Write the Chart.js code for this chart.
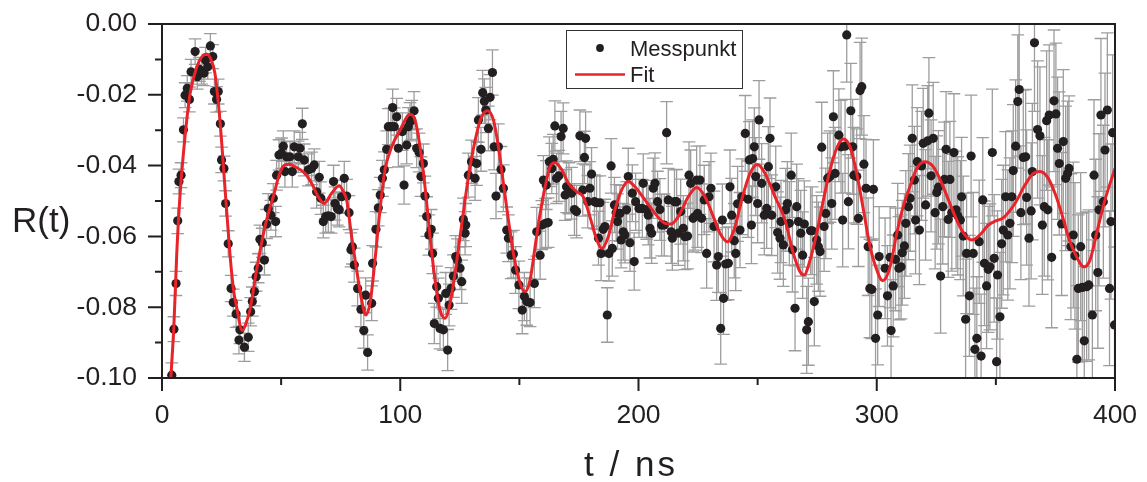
<!DOCTYPE html>
<html><head><meta charset="utf-8">
<script src="https://cdn.jsdelivr.net/npm/chart.js@4.4.1/dist/chart.umd.min.js"></script>
<style>html,body{margin:0;padding:0;background:#fff;}#wrap{width:1147px;height:482px;position:relative;}</style>
</head><body><div id="wrap"><canvas id="c"></canvas></div>
<script>
const xTicks = [0,50,100,150,200,250,300,350,400];
const xLabels = ['0','','100','','200','','300','','400'];
const yTicks = [-0.10,-0.09,-0.08,-0.07,-0.06,-0.05,-0.04,-0.03,-0.02,-0.01,0];
const yLabels = ['-0.10','','-0.08','','-0.06','','-0.04','','-0.02','','0.00'];

// Messpunkte: time (ns)
const tVals = [
4.1,5.0,5.9,6.6,7.1,8.0,9.0,9.7,10.6,11.5,12.2,13.9,14.8,15.7,16.6,17.6,18.3,19.2,20.3,21.3,
22.0,22.9,23.6,24.5,25.0,26.0,26.7,27.8,29.0,29.9,31.1,32.3,32.7,34.6,36.2,37.2,37.9,38.8,39.5,40.4,
41.1,42.1,43.0,43.9,44.6,45.7,46.7,47.7,48.1,49.1,
50.2,50.9,51.6,52.3,53.7,54.7,55.5,57.2,57.9,58.9,59.7,61.4,62.8,63.9,64.9,66.0,66.7,67.7,68.7,69.8,
71.0,72.0,72.6,73.6,74.4,75.4,76.5,77.5,78.5,79.3,79.9,80.7,82.1,83.5,84.7,85.5,86.3,88.0,88.4,89.8,
90.8,91.6,92.5,93.3,94.3,95.0,96.1,96.8,97.5,98.5,99.2,
100.9,101.6,102.7,103.4,104.1,104.8,105.8,106.9,107.9,108.7,109.7,110.4,111.1,112.0,113.0,113.6,114.3,115.3,116.0,116.7,
118.1,119.1,119.9,120.5,121.3,122.3,123.3,124.0,125.1,125.8,126.5,127.2,127.5,128.6,129.9,131.4,132.1,132.8,133.9,134.6,
135.3,135.9,137.0,137.7,138.7,139.4,140.2,141.2,142.3,143.3,144.7,145.4,146.5,147.5,148.4,149.8,
151.2,152.1,153.1,154.5,156.3,157.3,158.7,159.4,160.1,161.0,161.3,162.1,162.6,163.6,164.2,164.9,165.6,166.6,167.5,168.4,
169.2,169.8,170.8,171.9,173.1,174.0,175.4,176.6,177.3,177.8,178.7,179.6,180.3,181.5,182.4,183.2,183.8,184.3,185.2,185.9,
186.9,187.6,188.5,189.0,189.9,190.6,191.2,192.2,192.7,193.6,194.3,195.0,195.7,196.4,197.4,198.2,198.8,200.2,
201.6,202.0,203.4,204.1,204.8,205.5,206.2,206.9,208.0,209.0,209.7,210.8,211.8,212.5,213.7,214.2,215.1,216.0,216.7,217.7,
218.8,219.5,220.6,221.2,221.9,222.9,223.7,224.4,224.8,225.8,226.5,227.6,228.6,229.6,230.4,231.7,232.8,233.5,234.5,235.2,
235.7,236.6,237.7,238.4,239.1,240.2,240.8,241.6,242.6,243.4,244.8,246.0,246.5,247.4,247.9,248.6,249.2,250.0,250.6,
251.7,252.8,253.8,254.5,255.2,255.9,257.6,258.4,259.4,259.8,260.8,261.8,262.5,263.3,264.1,264.6,265.7,266.4,267.1,268.1,
268.9,269.6,270.6,271.3,272.2,272.9,273.8,274.8,275.5,276.2,276.9,277.9,278.6,279.4,280.4,281.1,281.8,282.5,284.1,285.0,
285.7,286.7,287.4,288.1,289.1,289.9,290.4,291.6,292.3,293.0,293.7,294.6,295.5,296.4,297.1,297.9,298.6,299.5,300.4,301.0,
303.5,304.5,305.6,306.0,306.9,307.9,308.8,309.3,310.2,310.7,311.6,312.2,313.3,314.0,314.9,315.8,316.3,317.0,317.9,318.8,
319.5,320.5,321.4,321.9,322.8,323.7,324.5,325.2,325.9,326.8,327.7,328.4,329.1,330.0,330.7,331.5,332.4,333.3,334.0,335.1,
335.6,336.3,337.3,337.7,338.9,339.6,340.5,341.2,342.0,343.0,343.8,344.5,345.2,346.1,346.8,347.5,348.5,349.3,350.3,350.7,
351.7,352.4,353.1,354.1,355.0,355.9,356.7,357.3,358.3,359.2,359.8,360.5,361.5,362.5,362.9,363.9,364.8,365.3,366.2,367.5,
368.5,369.5,370.3,371.3,371.8,372.4,373.4,374.4,375.2,375.9,376.6,377.6,378.3,379.3,380.1,380.7,381.5,382.5,383.2,384.0,
384.6,385.6,386.3,387.1,388.1,389.0,390.5,391.2,391.9,392.8,393.3,394.1,395.1,395.8,396.8,397.7,398.3,399.0,399.8
];

// Messpunkte: R(t)
const rVals = [
-0.0992,-0.0862,-0.0733,-0.0556,-0.0445,-0.0427,-0.0299,-0.0201,-0.0182,-0.0213,-0.0135,-0.0078,-0.0149,-0.0128,-0.0135,-0.0139,-0.0102,-0.0121,-0.0062,-0.0092,
-0.0191,-0.0213,-0.0191,-0.0282,-0.0384,-0.0408,-0.0507,-0.0621,-0.0747,-0.0787,-0.0819,-0.0893,-0.0864,-0.0913,-0.0885,-0.0813,-0.0784,-0.0756,-0.0714,-0.0690,
-0.0608,-0.0618,-0.0667,-0.0565,-0.0521,-0.0540,-0.0492,-0.0558,-0.0427,-0.0370,
-0.0365,-0.0345,-0.0417,-0.0375,-0.0375,-0.0417,-0.0347,-0.0375,-0.0351,-0.0282,-0.0384,-0.0412,-0.0408,-0.0398,-0.0474,-0.0433,-0.0492,-0.0558,-0.0544,-0.0542,
-0.0544,-0.0445,-0.0507,-0.0521,-0.0525,-0.0488,-0.0436,-0.0486,-0.0533,-0.0638,-0.0629,-0.0681,-0.0747,-0.0806,-0.0866,-0.0766,-0.0928,-0.0789,-0.0676,-0.0580,
-0.0519,-0.0483,-0.0436,-0.0412,-0.0354,-0.0290,-0.0290,-0.0236,-0.0290,-0.0262,-0.0351,
-0.0304,-0.0455,-0.0342,-0.0290,-0.0276,-0.0271,-0.0245,-0.0351,-0.0363,-0.0431,-0.0394,-0.0486,-0.0544,-0.0596,-0.0580,-0.0648,-0.0846,-0.0742,-0.0775,-0.0860,
-0.0864,-0.0761,-0.0921,-0.0794,-0.0747,-0.0712,-0.0657,-0.0667,-0.0690,-0.0728,-0.0552,-0.0591,-0.0568,-0.0427,-0.0389,-0.0436,-0.0394,-0.0271,-0.0354,-0.0194,
-0.0218,-0.0243,-0.0295,-0.0207,-0.0137,-0.0347,-0.0486,-0.0347,-0.0411,-0.0464,-0.0582,-0.0605,-0.0653,-0.0650,-0.0695,-0.0737,
-0.0808,-0.0770,-0.0784,-0.0787,-0.0733,-0.0587,-0.0653,-0.0568,-0.0441,-0.0563,-0.0455,-0.0561,-0.0389,-0.0408,-0.0382,-0.0288,-0.0436,-0.0429,-0.0318,-0.0295,
-0.0483,-0.0460,-0.0464,-0.0478,-0.0524,-0.0530,-0.0316,-0.0469,-0.0377,-0.0323,-0.0502,-0.0464,-0.0424,-0.0502,-0.0505,-0.0605,-0.0505,-0.0648,-0.0580,-0.0572,
-0.0822,-0.0648,-0.0401,-0.0634,-0.0511,-0.0533,-0.0558,-0.0535,-0.0610,-0.0587,-0.0596,-0.0525,-0.0431,-0.0618,-0.0478,-0.0671,-0.0502,-0.0521,
-0.0521,-0.0450,-0.0525,-0.0540,-0.0577,-0.0591,-0.0464,-0.0450,-0.0502,-0.0524,-0.0568,-0.0568,-0.0307,-0.0497,-0.0587,-0.0605,-0.0502,-0.0502,-0.0591,-0.0530,
-0.0577,-0.0601,-0.0599,-0.0427,-0.0450,-0.0549,-0.0544,-0.0441,-0.0535,-0.0441,-0.0549,-0.0497,-0.0648,-0.0488,-0.0464,-0.0572,-0.0681,-0.0657,-0.0860,-0.0554,
-0.0775,-0.0678,-0.0676,-0.0460,-0.0540,-0.0612,-0.0648,-0.0508,-0.0582,-0.0488,-0.0309,-0.0495,-0.0384,-0.0568,-0.0380,-0.0347,-0.0431,-0.0507,-0.0271,
-0.0450,-0.0540,-0.0521,-0.0403,-0.0323,-0.0540,-0.0460,-0.0589,-0.0605,-0.0558,-0.0624,-0.0525,-0.0507,-0.0563,-0.0427,-0.0638,-0.0803,-0.0516,-0.0558,-0.0591,
-0.0653,-0.0565,-0.0864,-0.0841,-0.0584,-0.0584,-0.0784,-0.0610,-0.0629,-0.0643,-0.0348,-0.0572,-0.0535,-0.0436,-0.0431,-0.0507,-0.0262,-0.0422,-0.0314,-0.0347,
-0.0554,-0.0345,-0.0031,-0.0502,-0.0245,-0.0347,-0.0427,-0.0431,-0.0549,-0.0188,-0.0177,-0.0396,-0.0464,-0.0629,-0.0747,-0.0750,-0.0467,-0.0888,-0.0822,-0.0657,
-0.0690,-0.0768,-0.0659,-0.0866,-0.0740,-0.0665,-0.0596,-0.0690,-0.0686,-0.0646,-0.0627,-0.0563,-0.0516,-0.0492,-0.0323,-0.0441,-0.0554,-0.0389,-0.0582,-0.0401,
-0.0337,-0.0511,-0.0330,-0.0252,-0.0429,-0.0323,-0.0533,-0.0476,-0.0461,-0.0712,-0.0516,-0.0439,-0.0354,-0.0552,-0.0439,-0.0533,-0.0363,-0.0525,-0.0542,-0.0554,
-0.0488,-0.0599,-0.0834,-0.0648,-0.0768,-0.0373,-0.0648,-0.0919,-0.0888,-0.0615,-0.0938,-0.0497,-0.0676,-0.0740,-0.0693,-0.0686,-0.0363,-0.0662,-0.0954,-0.0709,
-0.0827,-0.0621,-0.0582,-0.0488,-0.0596,-0.0563,-0.0488,-0.0414,-0.0345,-0.0219,-0.0185,-0.0533,-0.0377,-0.0375,-0.0490,-0.0605,-0.0528,-0.0417,-0.0053,-0.0298,
-0.0316,-0.0568,-0.0516,-0.0273,-0.0525,-0.0257,-0.0659,-0.0217,-0.0254,-0.0351,-0.0394,-0.0565,-0.0332,-0.0436,-0.0422,-0.0408,-0.0629,-0.0596,-0.0655,-0.0947,
-0.0747,-0.0629,-0.0744,-0.0895,-0.0742,-0.0737,-0.0822,-0.0427,-0.0596,-0.0702,-0.0525,-0.0257,-0.0502,-0.0356,-0.0243,-0.0747,-0.0558,-0.0307,-0.0850
];

// Messpunkte: error bar half-length
const errVals = [
0.0035,0.0035,0.0034,0.0036,0.0035,0.0035,0.0034,0.0035,0.0036,0.0035,0.0035,0.0036,0.0035,0.0034,0.0035,0.0035,0.0036,0.0035,0.0035,0.0034,
0.0035,0.0036,0.0035,0.0035,0.0036,0.0035,0.0036,0.0037,0.0037,0.0038,0.0038,0.0039,0.0039,0.0040,0.0040,0.0040,0.0041,0.0040,0.0041,0.0041,
0.0040,0.0041,0.0042,0.0041,0.0042,0.0042,0.0041,0.0043,0.0042,0.0043,
0.0043,0.0043,0.0044,0.0043,0.0044,0.0044,0.0045,0.0044,0.0045,0.0044,0.0045,0.0045,0.0046,0.0045,0.0046,0.0045,0.0046,0.0046,0.0047,0.0046,
0.0047,0.0046,0.0047,0.0047,0.0048,0.0047,0.0048,0.0047,0.0048,0.0048,0.0049,0.0048,0.0049,0.0049,0.0050,0.0049,0.0050,0.0049,0.0050,0.0050,
0.0051,0.0050,0.0051,0.0051,0.0052,0.0051,0.0052,0.0052,0.0053,0.0052,0.0053,
0.0053,0.0054,0.0053,0.0054,0.0054,0.0055,0.0054,0.0055,0.0055,0.0056,0.0055,0.0056,0.0056,0.0057,0.0056,0.0057,0.0057,0.0058,0.0057,0.0058,
0.0058,0.0059,0.0058,0.0059,0.0059,0.0060,0.0059,0.0060,0.0060,0.0061,0.0060,0.0061,0.0061,0.0062,0.0061,0.0062,0.0062,0.0063,0.0062,0.0063,
0.0063,0.0064,0.0063,0.0064,0.0064,0.0065,0.0064,0.0065,0.0065,0.0066,0.0065,0.0066,0.0066,0.0067,0.0066,0.0067,
0.0067,0.0068,0.0067,0.0068,0.0068,0.0069,0.0068,0.0069,0.0069,0.0070,0.0069,0.0070,0.0070,0.0071,0.0070,0.0071,0.0071,0.0072,0.0071,0.0072,
0.0072,0.0073,0.0072,0.0073,0.0073,0.0074,0.0073,0.0074,0.0074,0.0075,0.0074,0.0075,0.0075,0.0076,0.0075,0.0076,0.0076,0.0077,0.0076,0.0077,
0.0077,0.0078,0.0077,0.0078,0.0078,0.0079,0.0078,0.0079,0.0079,0.0080,0.0079,0.0080,0.0080,0.0081,0.0080,0.0081,0.0081,0.0082,
0.0082,0.0083,0.0083,0.0084,0.0084,0.0085,0.0085,0.0086,0.0086,0.0087,0.0087,0.0088,0.0088,0.0089,0.0089,0.0090,0.0090,0.0091,0.0091,0.0092,
0.0092,0.0093,0.0093,0.0094,0.0094,0.0095,0.0095,0.0096,0.0096,0.0097,0.0097,0.0098,0.0098,0.0099,0.0099,0.0100,0.0100,0.0101,0.0101,0.0102,
0.0102,0.0103,0.0103,0.0104,0.0104,0.0105,0.0105,0.0106,0.0106,0.0107,0.0107,0.0108,0.0108,0.0109,0.0109,0.0110,0.0110,0.0111,0.0111,
0.0112,0.0112,0.0113,0.0113,0.0114,0.0114,0.0115,0.0115,0.0116,0.0116,0.0117,0.0117,0.0118,0.0118,0.0119,0.0119,0.0120,0.0120,0.0121,0.0121,
0.0122,0.0122,0.0123,0.0123,0.0124,0.0124,0.0125,0.0125,0.0126,0.0126,0.0127,0.0127,0.0128,0.0128,0.0129,0.0129,0.0130,0.0130,0.0131,0.0131,
0.0132,0.0132,0.0133,0.0133,0.0134,0.0134,0.0135,0.0135,0.0136,0.0136,0.0137,0.0137,0.0138,0.0138,0.0139,0.0139,0.0140,0.0140,0.0141,0.0141,
0.0142,0.0142,0.0143,0.0144,0.0144,0.0145,0.0146,0.0146,0.0147,0.0148,0.0148,0.0149,0.0150,0.0150,0.0151,0.0152,0.0152,0.0153,0.0154,0.0154,
0.0155,0.0156,0.0156,0.0157,0.0158,0.0158,0.0159,0.0160,0.0160,0.0161,0.0162,0.0162,0.0163,0.0164,0.0164,0.0165,0.0166,0.0166,0.0167,0.0168,
0.0168,0.0169,0.0170,0.0170,0.0171,0.0172,0.0172,0.0173,0.0174,0.0174,0.0175,0.0176,0.0176,0.0177,0.0178,0.0178,0.0179,0.0180,0.0180,0.0181,
0.0182,0.0182,0.0183,0.0184,0.0184,0.0185,0.0186,0.0186,0.0187,0.0188,0.0188,0.0189,0.0190,0.0190,0.0191,0.0192,0.0192,0.0193,0.0194,0.0194,
0.0195,0.0196,0.0196,0.0197,0.0198,0.0198,0.0199,0.0200,0.0200,0.0201,0.0202,0.0202,0.0203,0.0204,0.0204,0.0205,0.0206,0.0206,0.0207,0.0208,
0.0208,0.0209,0.0210,0.0210,0.0211,0.0212,0.0212,0.0213,0.0214,0.0214,0.0215,0.0216,0.0216,0.0217,0.0218,0.0218,0.0219,0.0220,0.0220
];

// Fit curve
const fitT = [
3.7,5.0,6.2,7.5,9.0,10.4,11.8,14.6,16.8,18.8,20.5,22.2,24.3,26.4,28.5,30.0,31.3,33.7,35.3,36.9,
39.7,43.2,46.7,49.5,51.6,53.5,55.8,60.0,62.8,65.6,68.1,71.2,74.4,76.2,77.5,79.6,81.7,83.8,85.5,87.3,
89.4,91.5,93.6,96.4,99.9,104.1,106.2,108.3,110.4,112.5,114.6,116.7,118.8,120.9,123.0,125.1,127.2,129.3,132.1,134.2,
136.6,139.1,141.2,143.3,145.4,147.5,150.3,152.4,154.5,156.6,158.7,160.8,162.9,165.0,167.8,170.6,174.1,176.8,179.6,182.5,
184.6,187.3,190.1,192.9,195.7,198.5,202.7,206.9,211.1,213.6,216.7,220.9,224.4,227.9,231.4,234.2,237.4,240.5,243.3,246.8,
250.0,253.1,257.3,261.5,265.0,267.8,269.5,272.0,274.8,277.6,280.4,283.2,286.0,288.8,291.6,294.4,297.2,299.5,302.5,305.6,
308.4,311.1,313.9,316.8,320.2,323.7,327.3,330.7,334.2,337.0,340.1,343.3,346.8,350.0,353.0,358.0,362.2,365.7,368.5,372.0,
374.8,377.6,380.4,383.2,387.0,389.5,392.3,395.8,400.0
];
const fitR = [
-0.1000,-0.0850,-0.0648,-0.0490,-0.0365,-0.0270,-0.0196,-0.0121,-0.0092,-0.0085,-0.0100,-0.0139,-0.0271,-0.0460,-0.0648,-0.0750,-0.0799,-0.0866,-0.0845,-0.0808,
-0.0695,-0.0573,-0.0488,-0.0420,-0.0398,-0.0396,-0.0403,-0.0422,-0.0450,-0.0488,-0.0507,-0.0478,-0.0457,-0.0475,-0.0497,-0.0601,-0.0695,-0.0780,-0.0822,-0.0789,
-0.0667,-0.0525,-0.0412,-0.0347,-0.0300,-0.0255,-0.0271,-0.0347,-0.0460,-0.0601,-0.0723,-0.0808,-0.0831,-0.0789,-0.0704,-0.0601,-0.0497,-0.0403,-0.0309,-0.0262,
-0.0245,-0.0271,-0.0347,-0.0450,-0.0554,-0.0648,-0.0732,-0.0756,-0.0723,-0.0629,-0.0535,-0.0460,-0.0403,-0.0392,-0.0412,-0.0450,-0.0474,-0.0488,-0.0544,-0.0610,
-0.0634,-0.0601,-0.0525,-0.0469,-0.0445,-0.0460,-0.0497,-0.0535,-0.0563,-0.0565,-0.0544,-0.0488,-0.0462,-0.0488,-0.0544,-0.0591,-0.0615,-0.0573,-0.0497,-0.0422,
-0.0397,-0.0422,-0.0488,-0.0554,-0.0648,-0.0700,-0.0709,-0.0667,-0.0591,-0.0497,-0.0412,-0.0351,-0.0325,-0.0347,-0.0422,-0.0525,-0.0629,-0.0685,-0.0725,-0.0686,
-0.0591,-0.0516,-0.0460,-0.0408,-0.0389,-0.0403,-0.0450,-0.0507,-0.0563,-0.0596,-0.0610,-0.0596,-0.0568,-0.0556,-0.0548,-0.0507,-0.0455,-0.0422,-0.0417,-0.0436,
-0.0478,-0.0535,-0.0601,-0.0648,-0.0686,-0.0667,-0.0591,-0.0497,-0.0408
];

const F = "'Liberation Sans', Arial, Helvetica, sans-serif";
const INK = '#231f20';
const RED = '#e8232a';

const errorBars = {
  id: 'errorBars',
  beforeDatasetsDraw(chart) {
    const {ctx, chartArea: a, scales: {x, y}} = chart;
    const n = Math.min(tVals.length, rVals.length, errVals.length);
    ctx.save();
    ctx.beginPath(); ctx.rect(a.left, a.top, a.right - a.left, a.bottom - a.top); ctx.clip();
    ctx.strokeStyle = '#9d9d9d'; ctx.lineWidth = 1.3;
    ctx.beginPath();
    for (let i = 0; i < n; i++) {
      const px = x.getPixelForValue(tVals[i]);
      const y1 = y.getPixelForValue(rVals[i] + errVals[i]);
      const y2 = y.getPixelForValue(rVals[i] - errVals[i]);
      ctx.moveTo(px, y1); ctx.lineTo(px, y2);
      ctx.moveTo(px - 6.3, y1); ctx.lineTo(px + 6.3, y1);
      ctx.moveTo(px - 6.3, y2); ctx.lineTo(px + 6.3, y2);
    }
    ctx.stroke();
    ctx.restore();
  }
};

const decor = {
  id: 'decor',
  afterDraw(chart) {
    const {ctx, chartArea: a, scales: {x, y}} = chart;
    ctx.save();
    ctx.strokeStyle = INK; ctx.lineWidth = 2;
    ctx.strokeRect(a.left, a.top, a.right - a.left, a.bottom - a.top);
    ctx.beginPath();
    xTicks.forEach((v, i) => {
      const px = x.getPixelForValue(v);
      const len = xLabels[i] ? 13 : 7;
      ctx.moveTo(px, a.bottom); ctx.lineTo(px, a.bottom + len);
    });
    yTicks.forEach((v, i) => {
      const py = y.getPixelForValue(v);
      const len = yLabels[i] ? 14 : 7;
      ctx.moveTo(a.left, py); ctx.lineTo(a.left - len, py);
    });
    ctx.stroke();
    // axis titles
    ctx.fillStyle = INK;
    ctx.textBaseline = 'alphabetic';
    ctx.font = '35px ' + F;
    ctx.textAlign = 'left';
    ctx.fillText('R(t)', 12, 232);
    ctx.font = '35px ' + F;
    ctx.textAlign = 'center';
    if ('letterSpacing' in ctx) ctx.letterSpacing = '3px';
    ctx.fillText('t / ns', 631, 476);
    if ('letterSpacing' in ctx) ctx.letterSpacing = '0px';
    // legend
    const ds = chart.data.datasets;
    ctx.lineWidth = 1;
    ctx.strokeStyle = '#333';
    ctx.strokeRect(566.5, 30.5, 176, 58);
    ctx.fillStyle = ds[1].backgroundColor;
    ctx.beginPath(); ctx.arc(600, 48, 3.9, 0, Math.PI * 2); ctx.fill();
    ctx.strokeStyle = ds[0].borderColor; ctx.lineWidth = 2.5;
    ctx.beginPath(); ctx.moveTo(575, 74.5); ctx.lineTo(625, 74.5); ctx.stroke();
    ctx.fillStyle = INK;
    ctx.font = '22px ' + F;
    ctx.textAlign = 'left';
    ctx.fillText(ds[1].label, 630, 55.5);
    ctx.fillText(ds[0].label, 630, 82);
    ctx.restore();
  }
};

const noPad = s => { s.paddingTop = 0; s.paddingBottom = 0; s.paddingLeft = 0; s.paddingRight = 0; };

new Chart(document.getElementById('c'), {
  type: 'scatter',
  data: {
    datasets: [
      {
        label: 'Fit',
        data: fitT.map((t, i) => ({x: t, y: fitR[i]})),
        showLine: true,
        borderColor: RED,
        borderWidth: 3,
        pointRadius: 0,
        pointHoverRadius: 0,
        cubicInterpolationMode: 'monotone',
        fill: false,
        order: 0
      },
      {
        label: 'Messpunkt',
        data: tVals.map((t, i) => ({x: t, y: rVals[i]})),
        backgroundColor: INK,
        borderWidth: 0,
        pointRadius: 4.6,
        pointHoverRadius: 4.6,
        order: 1
      }
    ]
  },
  options: {
    responsive: true,
    maintainAspectRatio: false,
    animation: false,
    events: [],
    layout: {padding: {left: 0, top: 24, right: 32, bottom: 0}},
    plugins: {legend: {display: false}, tooltip: {enabled: false}},
    scales: {
      x: {
        type: 'linear', min: 0, max: 400,
        afterBuildTicks: s => { s.ticks = xTicks.map(v => ({value: v})); },
        afterFit: s => { s.height = 104; noPad(s); },
        ticks: {callback: (v, i) => xLabels[i], font: {family: F, size: 26.5}, color: INK, padding: 22, maxRotation: 0, autoSkip: false},
        grid: {display: false, drawTicks: false},
        border: {display: false}
      },
      y: {
        type: 'linear', min: -0.10, max: 0,
        afterBuildTicks: s => { s.ticks = yTicks.map(v => ({value: v})); },
        afterFit: s => { s.width = 162; noPad(s); },
        ticks: {callback: (v, i) => yLabels[i], font: {family: F, size: 26.5}, color: INK, padding: 25, autoSkip: false},
        grid: {display: false, drawTicks: false},
        border: {display: false}
      }
    }
  },
  plugins: [errorBars, decor]
});
</script>
</body></html>
